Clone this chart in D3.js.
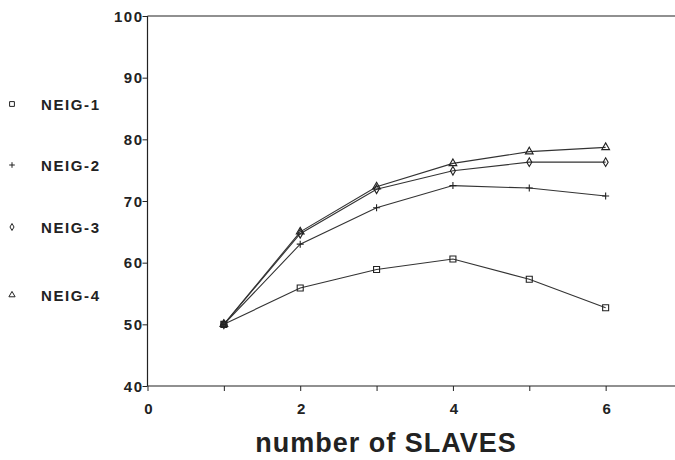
<!DOCTYPE html>
<html>
<head>
<meta charset="utf-8">
<script src="https://cdn.jsdelivr.net/npm/d3@7"></script>
<style>
  body { margin: 0; background: #fff; }
  svg { display: block; }
  text { font-family: "Liberation Sans", Arial, sans-serif; font-weight: bold; fill: #222; }
</style>
</head>
<body>
<div id="chart"></div>
<script>
// values
var slaves = [1, 2, 3, 4, 5, 6];
var neig1 = [50, 55.9, 58.9, 60.6, 57.3, 52.7];
var neig2 = [50, 63.0, 68.9, 72.5, 72.1, 70.8];
var neig3 = [50, 64.7, 71.9, 74.9, 76.3, 76.3];
var neig4 = [50, 65.0, 72.3, 76.1, 78.0, 78.7];
var seriesNames = ['NEIG-1', 'NEIG-2', 'NEIG-3', 'NEIG-4'];
var xTicks = [0, 1, 2, 3, 4, 5, 6];
var xLabels = [0, 2, 4, 6];
var yTicks = [40, 50, 60, 70, 80, 90, 100];

var width = 675,
  height = 460,
  ink = '#222';

var series = [neig1, neig2, neig3, neig4].map(function(vals, i) {
  return { name: seriesNames[i], values: vals.map(function(v, j) { return { x: slaves[j], y: v }; }) };
});

// marker shape per series: square, plus, diamond, triangle
var shapes = [d3.symbolSquare, d3.symbolCross, d3.symbolDiamond, d3.symbolTriangle];
var symbolSizes = [36, 40, 22, 26];
function markerPath(i, scale) {
  if (i === 1) {
    // thin plus drawn as lines
    var s = 3.5 * scale;
    return 'M' + (-s) + ',0H' + s + 'M0,' + (-s) + 'V' + s;
  }
  return d3.symbol().type(shapes[i]).size(symbolSizes[i] * scale * scale)();
}

var x = d3.scaleLinear().domain([0, 7]).range([147.5, 682]);
var y = d3.scaleLinear().domain([40, 100]).range([386, 16]);

var svg = d3.select('#chart').append('svg')
  .attr('width', width)
  .attr('height', height);

// top frame line
svg.append('line')
  .attr('x1', x(0)).attr('x2', width)
  .attr('y1', y(100)).attr('y2', y(100))
  .attr('stroke', ink).attr('stroke-width', 1.2);

// x axis
var xAxis = svg.append('g')
  .attr('transform', 'translate(0,' + y(40) + ')')
  .call(d3.axisBottom(x).tickValues(xTicks).tickSize(5).tickFormat(''));
xAxis.select('.domain').attr('d', 'M' + x(0) + ',0H' + width).attr('stroke', ink).attr('stroke-width', 1.2);
xAxis.selectAll('.tick line').attr('stroke', ink);

svg.selectAll('text.xlab')
  .data(xLabels).enter()
  .append('text').attr('class', 'xlab')
  .attr('x', function(d) { return x(d) + 1; })
  .attr('y', 414)
  .attr('text-anchor', 'middle')
  .attr('font-size', 15)
  .text(function(d) { return d; });

// y axis
var yAxis = svg.append('g')
  .attr('transform', 'translate(' + x(0) + ',0)')
  .call(d3.axisLeft(y).tickValues(yTicks).tickSize(5).tickFormat(''));
yAxis.select('.domain').attr('d', 'M0,' + y(100) + 'V' + y(40)).attr('stroke', ink).attr('stroke-width', 1.2);
yAxis.selectAll('.tick line').attr('stroke', ink);

svg.selectAll('text.ylab')
  .data(yTicks).enter()
  .append('text').attr('class', 'ylab')
  .attr('x', x(0) - 4)
  .attr('y', function(d) { return y(d) + 5.5; })
  .attr('text-anchor', 'end')
  .attr('font-size', 15)
  .attr('letter-spacing', 1.5)
  .text(function(d) { return d; });

// lines
var line = d3.line()
  .x(function(d) { return x(d.x); })
  .y(function(d) { return y(d.y); });

svg.selectAll('path.series')
  .data(series).enter()
  .append('path').attr('class', 'series')
  .attr('d', function(d) { return line(d.values); })
  .attr('fill', 'none')
  .attr('stroke', '#333')
  .attr('stroke-width', 1.1);

// markers (where all series start at the same point the symbols pile into a dark blob)
series.forEach(function(s, i) {
  svg.selectAll('path.m' + i)
    .data(s.values).enter()
    .append('path').attr('class', 'm' + i)
    .attr('transform', function(d) { return 'translate(' + x(d.x) + ',' + y(d.y) + ')'; })
    .attr('d', markerPath(i, 1))
    .attr('fill', function(d) { return i === 0 && d.x === 1 ? '#444' : 'none'; })
    .attr('stroke', ink)
    .attr('stroke-width', 1.1);
});

// legend
var legendY = [104, 165, 227, 295];
var legend = svg.selectAll('g.legend')
  .data(series).enter()
  .append('g').attr('class', 'legend')
  .attr('transform', function(d, i) { return 'translate(0,' + legendY[i] + ')'; });

legend.append('path')
  .attr('transform', 'translate(12,0)')
  .attr('d', function(d, i) { return markerPath(i, 0.8); })
  .attr('fill', 'none')
  .attr('stroke', ink)
  .attr('stroke-width', 1);

legend.append('text')
  .attr('x', 41)
  .attr('y', 5.5)
  .attr('font-size', 15)
  .attr('letter-spacing', 1.6)
  .text(function(d) { return d.name; });

// axis title
svg.append('text')
  .attr('x', 386)
  .attr('y', 452)
  .attr('text-anchor', 'middle')
  .attr('font-size', 27)
  .attr('letter-spacing', 1)
  .text('number of SLAVES');
</script>
</body>
</html>
